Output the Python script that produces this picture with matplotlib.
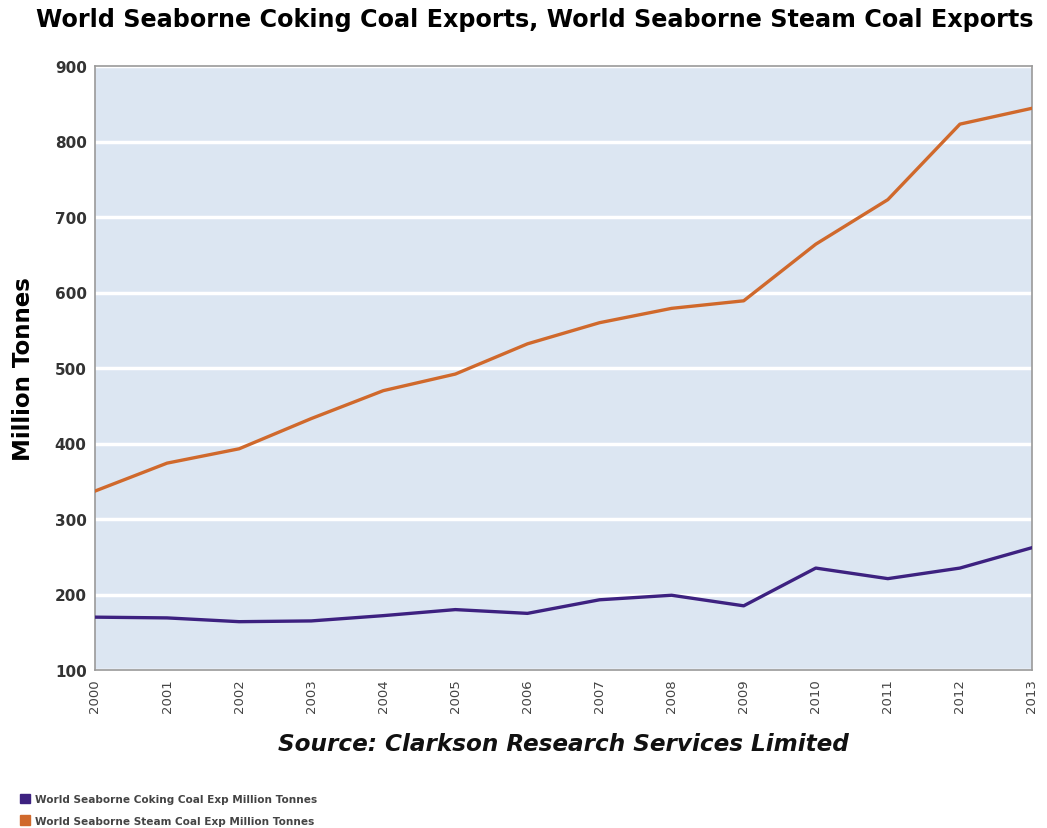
import matplotlib.pyplot as plt
from matplotlib.patches import Patch

# data (million tonnes)
years = list(range(2000, 2014))
coking = [170, 169, 164, 165, 172, 180, 175, 193, 199, 185, 235, 221, 235, 262]
steam = [337, 374, 393, 433, 470, 492, 532, 560, 579, 589, 664, 723, 823, 844]

title = 'World Seaborne Coking Coal Exports, World Seaborne Steam Coal Exports'
source = 'Source: Clarkson Research Services Limited'
legend_labels = ['World Seaborne Coking Coal Exp Million Tonnes',
                 'World Seaborne Steam Coal Exp Million Tonnes']

purple = '#3d2180'
orange = '#d0692c'

W, H = 1047, 829
fig = plt.figure(figsize=(W / 100, H / 100), dpi=100)
ax = fig.add_axes([95 / W, 1 - 671 / H, 937 / W, 604 / H])
ax.set_facecolor('#dce6f2')

ax.plot(years, coking, color=purple, lw=2.4, zorder=3)
ax.plot(years, steam, color=orange, lw=2.4, zorder=3)

ax.set_xlim(2000, 2013)
ax.set_ylim(100, 900)
ax.set_yticks(range(100, 1000, 100))
ax.set_xticks(years)
ax.set_xticklabels([str(y) for y in years], rotation=90, fontsize=9.5,
                   color='#444444', va='top')
for lab in ax.get_yticklabels():
    lab.set_fontweight('bold')
    lab.set_fontsize(11)
    lab.set_color('#333333')
ax.tick_params(length=0, pad=6)
ax.grid(axis='y', color='white', lw=2.5, zorder=1)
ax.set_axisbelow(True)
for s in ax.spines.values():
    s.set_color('#9a9a9a')
    s.set_linewidth(1.2)

ax.set_ylabel('Million Tonnes', fontsize=16.5, fontweight='bold', labelpad=14)

fig.text(535 / W, 1 - 20 / H, title, ha='center', va='center',
         fontsize=17.2, fontweight='bold')
fig.text(563 / W, 1 - 745 / H, source, ha='center', va='center',
         fontsize=16.7, fontweight='bold', fontstyle='italic', color='#111111')

handles = [Patch(color=purple), Patch(color=orange)]
fig.legend(handles, legend_labels, loc='upper left',
           bbox_to_anchor=(10 / W, 1 - 785 / H), frameon=False,
           handlelength=1.0, handleheight=1.0, handletextpad=0.5,
           labelspacing=1.1, prop={'size': 7.6, 'weight': 'bold'},
           labelcolor='#444444')

fig.savefig('out.png', dpi=100)
